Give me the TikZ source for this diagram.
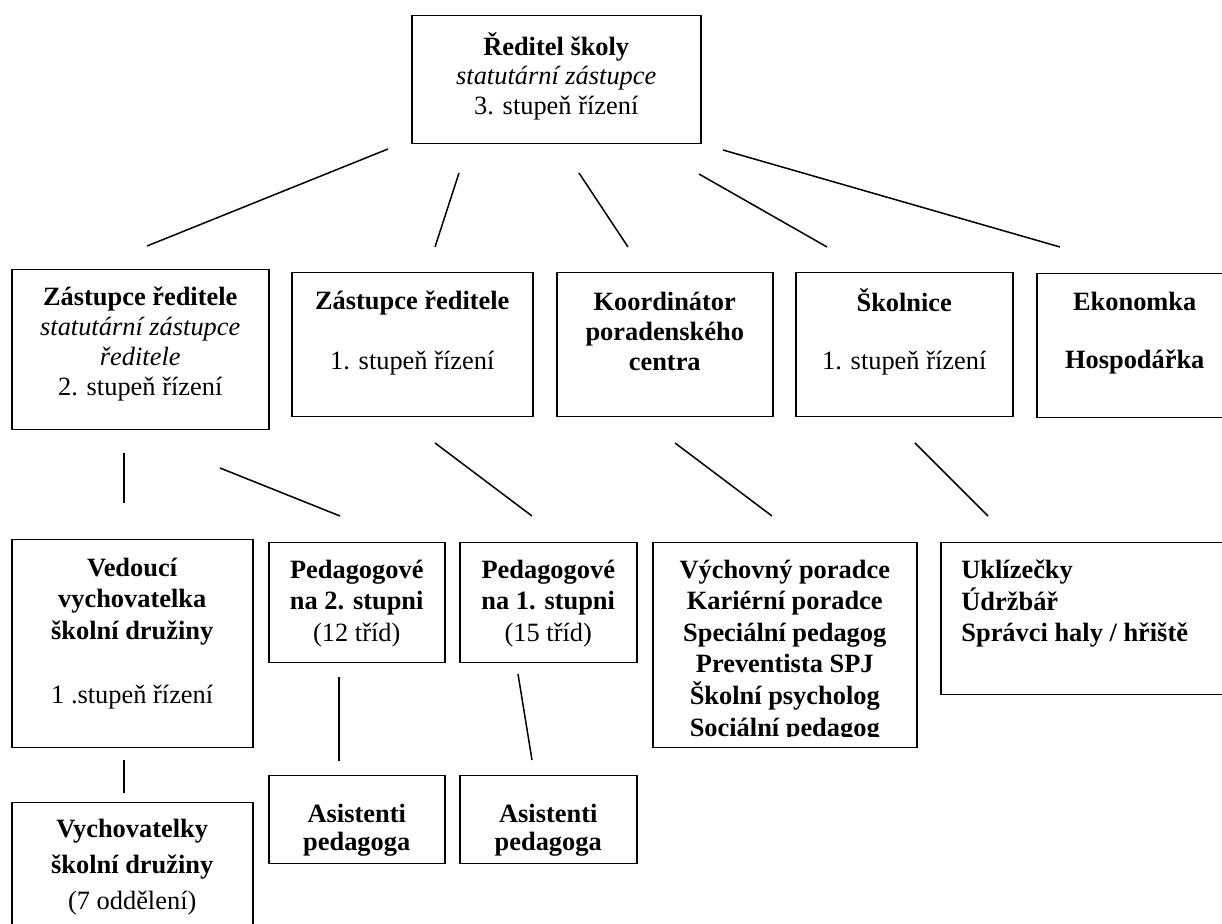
\documentclass[tikz,border=0pt]{standalone}
\usepackage{fontspec}
\setmainfont{Liberation Serif}
\usetikzlibrary{positioning}

\tikzset{
	orgbox/.style = {draw = black, line width = 0.75pt,
					 anchor = north west, inner sep = 0pt},
	orgtext/.style = {inner sep = 0pt, align = center,
					  font = \fontsize{13.2}{15}\selectfont,
					  execute at begin node = \strut},
	rowthree/.style = {font = \fontsize{13.2}{15.8}\selectfont},
	orgline/.style = {line width = 0.75pt}
}

\begin{document}
\begin{tikzpicture}[x = 0.5pt, y = -0.5pt]

	\useasboundingbox (0,0) rectangle (1222,924);
	\clip (0,0) rectangle (1222,924);

	% level 1
	\node[orgbox, minimum width = 144.5pt, minimum height = 64pt] (reditel) at (411,15) {};
	\node[orgtext, font = \fontsize{13.2}{14.75}\selectfont,
		  below = 8.5pt of reditel.north] (reditel-text)
		{\textbf{Ředitel školy}\\ \textit{statutární zástupce}\\ 3. stupeň řízení};

	% level 2
	\node[orgbox, minimum width = 128.5pt, minimum height = 80pt] (zast1) at (11,269) {};
	\node[orgtext, below = 8.7pt of zast1.north] (zast1-text)
		{\textbf{Zástupce ředitele}\\ \textit{statutární zástupce}\\ \textit{ředitele}\\ 2. stupeň řízení};

	\node[orgbox, minimum width = 120.5pt, minimum height = 72pt] (zast2) at (291,272) {};
	\node[orgtext, below = 9.2pt of zast2.north] (zast2-text)
		{\textbf{Zástupce ředitele}\\[15pt] 1. stupeň řízení};

	\node[orgbox, minimum width = 108pt, minimum height = 72pt] (koord) at (556,272) {};
	\node[orgtext, below = 9.7pt of koord.north] (koord-text)
		{\textbf{Koordinátor}\\ \textbf{poradenského}\\ \textbf{centra}};

	\node[orgbox, minimum width = 108.5pt, minimum height = 72pt] (skolnice) at (795,272) {};
	\node[orgtext, below = 8.2pt of skolnice.north] (skolnice-text)
		{\textbf{Školnice}\\[14pt] 1. stupeň řízení};

	\node[orgbox, minimum width = 98pt, minimum height = 72pt] (ekonom) at (1036,273) {};
	\node[orgtext, below = 9.2pt of ekonom.north] (ekonom-text)
		{\textbf{Ekonomka}\\[14pt] \textbf{Hospodářka}};

	% level 3
	\node[orgbox, minimum width = 120.5pt, minimum height = 104pt] (vedouci) at (11,539) {};
	\node[orgtext, rowthree, below = 9.2pt of vedouci.north] (vedouci-text)
		{\textbf{Vedoucí}\\ \textbf{vychovatelka}\\ \textbf{školní družiny}\\[16.3pt] 1 .stupeň řízení};

	\node[orgbox, minimum width = 88pt, minimum height = 60pt] (ped2) at (268,542) {};
	\node[orgtext, rowthree, below = 8.7pt of ped2.north] (ped2-text)
		{\textbf{Pedagogové}\\ \textbf{na 2. stupni}\\ (12 tříd)};

	\node[orgbox, minimum width = 88.5pt, minimum height = 60pt] (ped1) at (459,542) {};
	\node[orgtext, rowthree, below = 8.7pt of ped1.north] (ped1-text)
		{\textbf{Pedagogové}\\ \textbf{na 1. stupni}\\ (15 tříd)};

	\node[orgbox, minimum width = 132pt, minimum height = 102.5pt] (poradce) at (652,542) {};
	\begin{scope}
		\clip (652,542) rectangle (916,737);
		\node[orgtext, rowthree, below = 8.7pt of poradce.north] (poradce-text)
			{\textbf{Výchovný poradce}\\ \textbf{Kariérní poradce}\\ \textbf{Speciální pedagog}\\
			 \textbf{Preventista SPJ}\\ \textbf{Školní psycholog}\\ \textbf{Sociální pedagog}};
	\end{scope}

	\node[orgbox, minimum width = 150pt, minimum height = 76pt] (uklid) at (940,542) {};
	\node[orgtext, rowthree, align = left,
		  below right = 8.7pt and 10.5pt of uklid.north west] (uklid-text)
		{\textbf{Uklízečky}\\ \textbf{Údržbář}\\ \textbf{Správci haly / hřiště}};

	% level 4
	\node[orgbox, minimum width = 120.5pt, minimum height = 80pt] (vychov) at (11,802) {};
	\node[orgtext, font = \fontsize{13.2}{18}\selectfont,
		  below = 8.5pt of vychov.north] (vychov-text)
		{\textbf{Vychovatelky}\\ \textbf{školní družiny}\\ (7 oddělení)};

	\node[orgbox, minimum width = 88pt, minimum height = 44pt] (asist2) at (268,775) {};
	\node[orgtext, font = \fontsize{13.2}{14}\selectfont,
		  below = 14.2pt of asist2.north] (asist2-text)
		{\textbf{Asistenti}\\ \textbf{pedagoga}};

	\node[orgbox, minimum width = 88.5pt, minimum height = 44pt] (asist1) at (459,775) {};
	\node[orgtext, font = \fontsize{13.2}{14}\selectfont,
		  below = 14.2pt of asist1.north] (asist1-text)
		{\textbf{Asistenti}\\ \textbf{pedagoga}};

	% free line ends
	\coordinate (r-z1) at (388,149);	\coordinate (z1-r) at (147,246);
	\coordinate (r-z2) at (459,173);	\coordinate (z2-r) at (435,247);
	\coordinate (r-ko) at (579,173);	\coordinate (ko-r) at (628,247);
	\coordinate (r-sk) at (699,174);	\coordinate (sk-r) at (827,247);
	\coordinate (r-ek) at (723,150);	\coordinate (ek-r) at (1060,247);

	\coordinate (z1-ve) at (124,453);	\coordinate (ve-z1) at (124,503);
	\coordinate (z1-p2) at (220,468);	\coordinate (p2-z1) at (340,516);
	\coordinate (z2-p1) at (435,443);	\coordinate (p1-z2) at (532,516);
	\coordinate (ko-po) at (675,443);	\coordinate (po-ko) at (772,516);
	\coordinate (sk-uk) at (915,443);	\coordinate (uk-sk) at (988,516);

	\coordinate (ve-vy) at (124,760);	\coordinate (vy-ve) at (124,793);
	\coordinate (p2-a2) at (339,677);	\coordinate (a2-p2) at (339,761);
	\coordinate (p1-a1) at (518,674);	\coordinate (a1-p1) at (532,760);

	\draw[orgline] (r-z1) -- (z1-r);
	\draw[orgline] (r-z2) -- (z2-r);
	\draw[orgline] (r-ko) -- (ko-r);
	\draw[orgline] (r-sk) -- (sk-r);
	\draw[orgline] (r-ek) -- (ek-r);

	\draw[orgline] (z1-ve) -- (ve-z1);
	\draw[orgline] (z1-p2) -- (p2-z1);
	\draw[orgline] (z2-p1) -- (p1-z2);
	\draw[orgline] (ko-po) -- (po-ko);
	\draw[orgline] (sk-uk) -- (uk-sk);

	\draw[orgline] (ve-vy) -- (vy-ve);
	\draw[orgline] (p2-a2) -- (a2-p2);
	\draw[orgline] (p1-a1) -- (a1-p1);
\end{tikzpicture}
\end{document}
